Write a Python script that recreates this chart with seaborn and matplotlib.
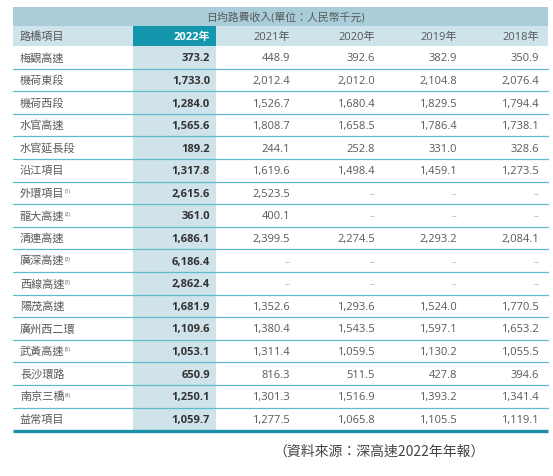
import matplotlib
matplotlib.use("Agg")
import matplotlib.pyplot as plt
import seaborn as sns

# data (日均路費收入, 人民幣千元)
roads = ["梅觀高速", "機荷東段", "機荷西段", "水官高速", "水官延長段", "沿江項目",
         "外環項目", "龍大高速", "清連高速", "廣深高速", "西線高速", "陽茂高速",
         "廣州西二環", "武黃高速", "長沙環路", "南京三橋", "益常項目"]
notes = ["", "", "", "", "", "", "(1)", "(2)", "", "(3)", "(3)", "", "", "(5)", "", "(4)", ""]
years = ["2022年", "2021年", "2020年", "2019年", "2018年"]
v2022 = [373.2, 1733.0, 1284.0, 1565.6, 189.2, 1317.8, 2615.6, 361.0, 1686.1, 6186.4,
         2862.4, 1681.9, 1109.6, 1053.1, 650.9, 1250.1, 1059.7]
v2021 = [448.9, 2012.4, 1526.7, 1808.7, 244.1, 1619.6, 2523.5, 400.1, 2399.5, None,
         None, 1352.6, 1380.4, 1311.4, 816.3, 1301.3, 1277.5]
v2020 = [392.6, 2012.0, 1680.4, 1658.5, 252.8, 1498.4, None, None, 2274.5, None,
         None, 1293.6, 1543.5, 1059.5, 511.5, 1516.9, 1065.8]
v2019 = [382.9, 2104.8, 1829.5, 1786.4, 331.0, 1459.1, None, None, 2293.2, None,
         None, 1524.0, 1597.1, 1130.2, 427.8, 1393.2, 1105.5]
v2018 = [350.9, 2076.4, 1794.4, 1738.1, 328.6, 1273.5, None, None, 2084.1, None,
         None, 1770.5, 1653.2, 1055.5, 394.6, 1341.4, 1119.1]
columns = [v2022, v2021, v2020, v2019, v2018]
title = "日均路費收入(單位：人民幣千元)"
source = "（資料來源：深高速2022年年報）"

sns.set_theme(style="white")
fam = ["Open Sans", "Noto Sans CJK TC", "DejaVu Sans"]
plt.rcParams["font.family"] = fam

W, H = 553, 477
fig = plt.figure(figsize=(W / 100, H / 100), dpi=100)
ax = fig.add_axes([0, 0, 1, 1])
ax.set_xlim(0, W)
ax.set_ylim(H, 0)
ax.axis("off")

left, right = 13, 548
top_bar, head_top, head_bot = 8, 27, 47
row_h = 22.6
n = len(roads)
bottom = head_bot + n * row_h
col_right = [210, 290, 375, 457, 539]
hl_x0, hl_x1 = 133, 216
txt_c = "#58595b"
line_c = "#5bbccc"
fs = 8

# backgrounds
ax.fill_between([left, right], top_bar, head_top, color="#a9cdd9", lw=0)
ax.fill_between([left, right], head_top, head_bot, color="#cfe3ea", lw=0)
ax.fill_between([hl_x0, hl_x1], head_top, head_bot, color="#1497ad", lw=0)
ax.fill_between([hl_x0, hl_x1], head_bot, bottom, color="#d0e2ea", lw=0)

ax.text(285, (top_bar + head_top) / 2 + 0.5, title, ha="center", va="center",
        fontsize=7.8, color=txt_c)
ax.text(20, (head_top + head_bot) / 2 + 0.5, "路橋項目", ha="left", va="center",
        fontsize=fs, color=txt_c)
for j, yr in enumerate(years):
    ax.text(col_right[j], (head_top + head_bot) / 2 + 0.5, yr, ha="right", va="center",
            fontsize=fs, color="white" if j == 0 else txt_c,
            fontweight="bold" if j == 0 else "normal")

for i, road in enumerate(roads):
    yc = head_bot + (i + 0.5) * row_h + 0.5
    t = ax.text(20, yc, road, ha="left", va="center", fontsize=fs, color=txt_c)
    if notes[i]:
        ax.annotate(notes[i], xy=(1, 0.75), xycoords=t, xytext=(0.3, 0),
                    textcoords="offset points", ha="left", va="center",
                    fontsize=3.6, color=txt_c)
    for j, col in enumerate(columns):
        v = col[i]
        if v is None:
            ax.text(col_right[j] - 1, yc, "–", ha="right", va="center",
                    fontsize=7, color="#b5b5b5")
        else:
            ax.text(col_right[j], yc, f"{v:,.1f}", ha="right", va="center",
                    fontsize=fs, color="#333333" if j == 0 else txt_c,
                    fontweight="bold" if j == 0 else "normal")
    if i < n - 1:
        ax.plot([left, right], [head_bot + (i + 1) * row_h] * 2, color=line_c, lw=0.9)

ax.plot([left, right], [bottom + 1, bottom + 1], color="#1a91a7", lw=2.4,
        solid_capstyle="butt")

ax.text(379, 452, source, ha="center", va="center", fontsize=10, color="#444444",
        family=["Noto Sans CJK TC", "DejaVu Sans"])

fig.savefig("out.png", dpi=100)
